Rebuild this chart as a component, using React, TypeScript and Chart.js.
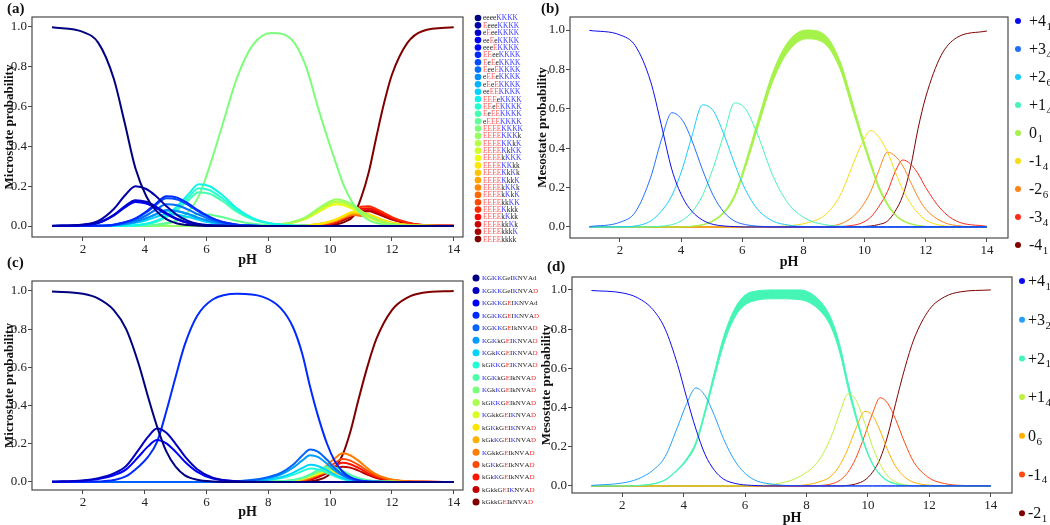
import React, { useEffect, useRef } from "react";
import { Chart, registerables } from "chart.js";
Chart.register(...registerables);
Chart.defaults.font.family = '"Liberation Serif", "Times New Roman", serif';

// ---------- pH grids ----------
const PH_AB = [1, 2, 2.5, 3, 3.35, 3.7, 4.05, 4.35, 4.7, 5.05, 5.4, 5.75, 6.1, 6.5, 7, 7.5, 8.1, 8.7, 9.2, 9.6, 9.9, 10.2, 10.45, 10.75, 11, 11.25, 11.5, 11.75, 12, 12.5, 13, 14];
const PH_CD = [1, 2, 2.5, 3, 3.4, 3.8, 4.1, 4.4, 4.7, 5, 5.3, 5.7, 6.2, 7, 7.8, 8.4, 8.8, 9.1, 9.35, 9.6, 9.9, 10.15, 10.4, 10.65, 10.9, 11.2, 11.5, 12, 12.5, 13, 14];
const X_TICKS = [2, 4, 6, 8, 10, 12, 14];
const Y_TICKS = [0, 0.2, 0.4, 0.6, 0.8, 1.0];

// ---------- panel (b): mesostates ----------
const B_LABELS = [["+4", "1"], ["+3", "4"], ["+2", "6"], ["+1", "4"], ["0", "1"], ["-1", "4"], ["-2", "6"], ["-3", "4"], ["-4", "1"]];
const B_P4 = [0.998, 0.975, 0.92, 0.74, 0.52, 0.29, 0.15, 0.08, 0.035, 0.013, 0.005, 0.002, 0, 0, 0, 0, 0, 0, 0, 0, 0, 0, 0, 0, 0, 0, 0, 0, 0, 0, 0, 0];
const B_P3 = [0.002, 0.024, 0.075, 0.25, 0.44, 0.58, 0.54, 0.44, 0.29, 0.16, 0.075, 0.03, 0.012, 0.004, 0.001, 0, 0, 0, 0, 0, 0, 0, 0, 0, 0, 0, 0, 0, 0, 0, 0, 0];
const B_P2 = [0, 0.001, 0.005, 0.03, 0.08, 0.16, 0.3, 0.46, 0.62, 0.59, 0.47, 0.32, 0.19, 0.09, 0.03, 0.01, 0.002, 0, 0, 0, 0, 0, 0, 0, 0, 0, 0, 0, 0, 0, 0, 0];
const B_P1 = [0, 0, 0, 0.001, 0.004, 0.012, 0.035, 0.075, 0.16, 0.3, 0.47, 0.63, 0.6, 0.47, 0.26, 0.12, 0.04, 0.012, 0.004, 0.001, 0, 0, 0, 0, 0, 0, 0, 0, 0, 0, 0, 0];
const B_Z = [0, 0, 0, 0, 0, 0, 0, 0.003, 0.01, 0.03, 0.07, 0.15, 0.3, 0.5, 0.74, 0.89, 0.955, 0.93, 0.8, 0.6, 0.45, 0.31, 0.2, 0.11, 0.06, 0.03, 0.015, 0.007, 0.003, 0.001, 0, 0];
const B_Z_UP = [0, 0, 0, 0, 0, 0, 0, 0.004, 0.012, 0.034, 0.078, 0.165, 0.325, 0.535, 0.785, 0.94, 1.0, 0.975, 0.84, 0.635, 0.475, 0.33, 0.215, 0.12, 0.066, 0.034, 0.017, 0.008, 0.003, 0.001, 0, 0];
const B_M1 = [0, 0, 0, 0, 0, 0, 0, 0, 0, 0, 0, 0, 0, 0, 0.002, 0.006, 0.02, 0.06, 0.16, 0.31, 0.42, 0.49, 0.46, 0.38, 0.28, 0.19, 0.12, 0.07, 0.035, 0.008, 0.002, 0];
const B_M2 = [0, 0, 0, 0, 0, 0, 0, 0, 0, 0, 0, 0, 0, 0, 0, 0, 0, 0.003, 0.015, 0.05, 0.1, 0.18, 0.28, 0.38, 0.36, 0.31, 0.23, 0.15, 0.09, 0.03, 0.007, 0];
const B_M3 = [0, 0, 0, 0, 0, 0, 0, 0, 0, 0, 0, 0, 0, 0, 0, 0, 0, 0, 0.002, 0.008, 0.02, 0.05, 0.1, 0.18, 0.28, 0.34, 0.32, 0.27, 0.2, 0.09, 0.03, 0.003];
const B_M4 = [0, 0, 0, 0, 0, 0, 0, 0, 0, 0, 0, 0, 0, 0, 0, 0, 0, 0, 0, 0, 0.002, 0.005, 0.012, 0.03, 0.08, 0.16, 0.3, 0.5, 0.66, 0.87, 0.96, 0.995];

// ---------- panel (a): microstates ----------
const A_LABELS = ["eeeeKKKK", "EeeeKKKK", "eEeeKKKK", "eeEeKKKK", "eeeEKKKK", "EEeeKKKK", "EeEeKKKK", "EeeEKKKK", "eEEeKKKK", "eEeEKKKK", "eeEEKKKK", "EEEeKKKK", "EEeEKKKK", "EeEEKKKK", "eEEEKKKK", "EEEEKKKK", "EEEEKKKk", "EEEEKKkK", "EEEEKkKK", "EEEEkKKK", "EEEEKKkk", "EEEEKkKk", "EEEEKkkK", "EEEEkKKk", "EEEEkKkK", "EEEEkkKK", "EEEEKkkk", "EEEEkKkk", "EEEEkkKk", "EEEEkkkK", "EEEEkkkk"];
const A01 = [0.998, 0.975, 0.92, 0.74, 0.52, 0.29, 0.15, 0.08, 0.035, 0.013, 0.005, 0.002, 0, 0, 0, 0, 0, 0, 0, 0, 0, 0, 0, 0, 0, 0, 0, 0, 0, 0, 0, 0];
const A02 = [0.001, 0.008, 0.026, 0.086, 0.152, 0.2, 0.186, 0.152, 0.1, 0.055, 0.026, 0.01, 0.004, 0.001, 0, 0, 0, 0, 0, 0, 0, 0, 0, 0, 0, 0, 0, 0, 0, 0, 0, 0];
const A03 = [0, 0.005, 0.017, 0.056, 0.099, 0.13, 0.122, 0.099, 0.065, 0.036, 0.017, 0.007, 0.003, 0.001, 0, 0, 0, 0, 0, 0, 0, 0, 0, 0, 0, 0, 0, 0, 0, 0, 0, 0];
const A04 = [0, 0.005, 0.016, 0.054, 0.095, 0.125, 0.116, 0.095, 0.062, 0.034, 0.016, 0.006, 0.003, 0.001, 0, 0, 0, 0, 0, 0, 0, 0, 0, 0, 0, 0, 0, 0, 0, 0, 0, 0];
const A05 = [0, 0.005, 0.016, 0.053, 0.092, 0.121, 0.113, 0.092, 0.061, 0.034, 0.016, 0.006, 0.003, 0.001, 0, 0, 0, 0, 0, 0, 0, 0, 0, 0, 0, 0, 0, 0, 0, 0, 0, 0];
const A06 = [0, 0, 0.001, 0.007, 0.019, 0.039, 0.073, 0.111, 0.15, 0.143, 0.114, 0.077, 0.046, 0.022, 0.007, 0.002, 0, 0, 0, 0, 0, 0, 0, 0, 0, 0, 0, 0, 0, 0, 0, 0];
const A07 = [0, 0, 0.001, 0.007, 0.018, 0.036, 0.068, 0.104, 0.14, 0.133, 0.106, 0.072, 0.043, 0.02, 0.007, 0.002, 0, 0, 0, 0, 0, 0, 0, 0, 0, 0, 0, 0, 0, 0, 0, 0];
const A08 = [0, 0, 0.001, 0.005, 0.014, 0.028, 0.053, 0.081, 0.11, 0.104, 0.083, 0.057, 0.034, 0.016, 0.005, 0.002, 0, 0, 0, 0, 0, 0, 0, 0, 0, 0, 0, 0, 0, 0, 0, 0];
const A09 = [0, 0, 0.001, 0.004, 0.01, 0.021, 0.039, 0.059, 0.08, 0.076, 0.061, 0.041, 0.025, 0.012, 0.004, 0.001, 0, 0, 0, 0, 0, 0, 0, 0, 0, 0, 0, 0, 0, 0, 0, 0];
const A10 = [0, 0, 0.001, 0.004, 0.01, 0.02, 0.038, 0.058, 0.077, 0.074, 0.059, 0.04, 0.024, 0.011, 0.004, 0.001, 0, 0, 0, 0, 0, 0, 0, 0, 0, 0, 0, 0, 0, 0, 0, 0];
const A11 = [0, 0, 0, 0.003, 0.008, 0.016, 0.029, 0.045, 0.06, 0.057, 0.046, 0.031, 0.018, 0.009, 0.003, 0.001, 0, 0, 0, 0, 0, 0, 0, 0, 0, 0, 0, 0, 0, 0, 0, 0];
const A12 = [0, 0, 0, 0, 0.001, 0.004, 0.012, 0.025, 0.053, 0.1, 0.157, 0.21, 0.2, 0.157, 0.087, 0.04, 0.013, 0.004, 0.001, 0, 0, 0, 0, 0, 0, 0, 0, 0, 0, 0, 0, 0];
const A13 = [0, 0, 0, 0, 0.001, 0.004, 0.011, 0.023, 0.048, 0.09, 0.141, 0.19, 0.18, 0.141, 0.078, 0.036, 0.012, 0.004, 0.001, 0, 0, 0, 0, 0, 0, 0, 0, 0, 0, 0, 0, 0];
const A14 = [0, 0, 0, 0, 0.001, 0.003, 0.009, 0.02, 0.043, 0.081, 0.127, 0.17, 0.162, 0.127, 0.07, 0.032, 0.011, 0.003, 0.001, 0, 0, 0, 0, 0, 0, 0, 0, 0, 0, 0, 0, 0];
const A15 = [0, 0, 0, 0, 0, 0.001, 0.003, 0.007, 0.015, 0.029, 0.045, 0.06, 0.057, 0.045, 0.025, 0.011, 0.004, 0.001, 0, 0, 0, 0, 0, 0, 0, 0, 0, 0, 0, 0, 0, 0];
const A16 = [0, 0, 0, 0, 0, 0, 0, 0.003, 0.01, 0.03, 0.07, 0.15, 0.3, 0.5, 0.75, 0.91, 0.97, 0.945, 0.81, 0.6, 0.45, 0.31, 0.2, 0.11, 0.06, 0.03, 0.015, 0.007, 0.003, 0.001, 0, 0];
const A17 = [0, 0, 0, 0, 0, 0, 0, 0, 0, 0, 0, 0, 0, 0, 0.001, 0.002, 0.006, 0.017, 0.044, 0.086, 0.116, 0.135, 0.127, 0.105, 0.077, 0.052, 0.033, 0.019, 0.01, 0.002, 0.001, 0];
const A18 = [0, 0, 0, 0, 0, 0, 0, 0, 0, 0, 0, 0, 0, 0, 0.001, 0.002, 0.005, 0.015, 0.041, 0.079, 0.107, 0.125, 0.117, 0.097, 0.071, 0.048, 0.031, 0.018, 0.009, 0.002, 0.001, 0];
const A19 = [0, 0, 0, 0, 0, 0, 0, 0, 0, 0, 0, 0, 0, 0, 0, 0.001, 0.005, 0.015, 0.039, 0.076, 0.103, 0.12, 0.113, 0.093, 0.069, 0.047, 0.029, 0.017, 0.009, 0.002, 0, 0];
const A20 = [0, 0, 0, 0, 0, 0, 0, 0, 0, 0, 0, 0, 0, 0, 0, 0.001, 0.004, 0.013, 0.036, 0.069, 0.094, 0.11, 0.103, 0.085, 0.063, 0.043, 0.027, 0.016, 0.008, 0.002, 0, 0];
const A21 = [0, 0, 0, 0, 0, 0, 0, 0, 0, 0, 0, 0, 0, 0, 0, 0, 0, 0.001, 0.003, 0.01, 0.019, 0.034, 0.053, 0.072, 0.068, 0.059, 0.044, 0.029, 0.017, 0.006, 0.001, 0];
const A22 = [0, 0, 0, 0, 0, 0, 0, 0, 0, 0, 0, 0, 0, 0, 0, 0, 0, 0.001, 0.003, 0.009, 0.018, 0.032, 0.05, 0.068, 0.065, 0.056, 0.041, 0.027, 0.016, 0.005, 0.001, 0];
const A23 = [0, 0, 0, 0, 0, 0, 0, 0, 0, 0, 0, 0, 0, 0, 0, 0, 0, 0, 0.003, 0.009, 0.017, 0.031, 0.048, 0.065, 0.061, 0.053, 0.039, 0.026, 0.015, 0.005, 0.001, 0];
const A24 = [0, 0, 0, 0, 0, 0, 0, 0, 0, 0, 0, 0, 0, 0, 0, 0, 0, 0, 0.002, 0.008, 0.016, 0.029, 0.045, 0.061, 0.058, 0.05, 0.037, 0.024, 0.014, 0.005, 0.001, 0];
const A25 = [0, 0, 0, 0, 0, 0, 0, 0, 0, 0, 0, 0, 0, 0, 0, 0, 0, 0, 0.002, 0.008, 0.015, 0.027, 0.042, 0.057, 0.054, 0.047, 0.035, 0.023, 0.014, 0.005, 0.001, 0];
const A26 = [0, 0, 0, 0, 0, 0, 0, 0, 0, 0, 0, 0, 0, 0, 0, 0, 0, 0, 0.002, 0.007, 0.015, 0.026, 0.041, 0.055, 0.052, 0.045, 0.033, 0.022, 0.013, 0.004, 0.001, 0];
const A27 = [0, 0, 0, 0, 0, 0, 0, 0, 0, 0, 0, 0, 0, 0, 0, 0, 0, 0, 0.001, 0.003, 0.009, 0.022, 0.042, 0.07, 0.097, 0.1, 0.085, 0.065, 0.045, 0.018, 0.005, 0.001];
const A28 = [0, 0, 0, 0, 0, 0, 0, 0, 0, 0, 0, 0, 0, 0, 0, 0, 0, 0, 0.001, 0.003, 0.008, 0.02, 0.038, 0.063, 0.087, 0.09, 0.077, 0.058, 0.04, 0.016, 0.005, 0.001];
const A29 = [0, 0, 0, 0, 0, 0, 0, 0, 0, 0, 0, 0, 0, 0, 0, 0, 0, 0, 0.001, 0.002, 0.007, 0.018, 0.034, 0.057, 0.079, 0.081, 0.069, 0.052, 0.036, 0.015, 0.004, 0.001];
const A30 = [0, 0, 0, 0, 0, 0, 0, 0, 0, 0, 0, 0, 0, 0, 0, 0, 0, 0, 0, 0.002, 0.006, 0.016, 0.031, 0.052, 0.072, 0.074, 0.063, 0.048, 0.033, 0.013, 0.004, 0.001];
const A31 = [0, 0, 0, 0, 0, 0, 0, 0, 0, 0, 0, 0, 0, 0, 0, 0, 0, 0, 0, 0, 0.003, 0.008, 0.02, 0.05, 0.14, 0.27, 0.45, 0.62, 0.76, 0.92, 0.98, 0.998];
const A_SERIES = [A01, A02, A03, A04, A05, A06, A07, A08, A09, A10, A11, A12, A13, A14, A15, A16, A17, A18, A19, A20, A21, A22, A23, A24, A25, A26, A27, A28, A29, A30, A31];

// ---------- panel (d): mesostates ----------
const D_LABELS = [["+4", "1"], ["+3", "2"], ["+2", "1"], ["+1", "4"], ["0", "6"], ["-1", "4"], ["-2", "1"]];
const D_P4 = [0.997, 0.985, 0.96, 0.9, 0.8, 0.62, 0.45, 0.29, 0.16, 0.08, 0.035, 0.012, 0.003, 0, 0, 0, 0, 0, 0, 0, 0, 0, 0, 0, 0, 0, 0, 0, 0, 0, 0];
const D_P3 = [0.003, 0.015, 0.035, 0.08, 0.15, 0.3, 0.42, 0.5, 0.46, 0.36, 0.24, 0.12, 0.04, 0.007, 0.001, 0, 0, 0, 0, 0, 0, 0, 0, 0, 0, 0, 0, 0, 0, 0, 0];
const D_P2 = [0, 0, 0.002, 0.01, 0.03, 0.08, 0.13, 0.21, 0.37, 0.55, 0.72, 0.87, 0.94, 0.955, 0.95, 0.9, 0.81, 0.67, 0.5, 0.35, 0.2, 0.11, 0.055, 0.025, 0.01, 0.003, 0.001, 0, 0, 0, 0];
const D_P2_UP = [0, 0, 0.002, 0.011, 0.032, 0.085, 0.14, 0.225, 0.39, 0.58, 0.76, 0.915, 0.99, 1.0, 1.0, 0.95, 0.855, 0.71, 0.53, 0.37, 0.21, 0.115, 0.058, 0.026, 0.011, 0.003, 0.001, 0, 0, 0, 0];
const D_P1 = [0, 0, 0, 0, 0, 0, 0, 0, 0, 0, 0, 0, 0.001, 0.01, 0.05, 0.13, 0.25, 0.38, 0.47, 0.44, 0.32, 0.2, 0.11, 0.05, 0.02, 0.006, 0.002, 0, 0, 0, 0];
const D_Z = [0, 0, 0, 0, 0, 0, 0, 0, 0, 0, 0, 0, 0, 0, 0.003, 0.02, 0.05, 0.11, 0.19, 0.29, 0.38, 0.36, 0.28, 0.18, 0.1, 0.045, 0.018, 0.004, 0.001, 0, 0];
const D_M1 = [0, 0, 0, 0, 0, 0, 0, 0, 0, 0, 0, 0, 0, 0, 0, 0.002, 0.01, 0.03, 0.07, 0.14, 0.26, 0.37, 0.45, 0.42, 0.34, 0.22, 0.12, 0.04, 0.012, 0.003, 0];
const D_M2 = [0, 0, 0, 0, 0, 0, 0, 0, 0, 0, 0, 0, 0, 0, 0, 0, 0, 0, 0.003, 0.01, 0.03, 0.07, 0.14, 0.26, 0.42, 0.6, 0.75, 0.9, 0.965, 0.99, 1.0];

// ---------- panel (c): microstates ----------
const C_LABELS = ["KGKKGeIKNVAd", "KGKKGeIKNVAD", "KGKKGEIKNVAd", "KGKKGEIKNVAD", "KGKKGEIkNVAD", "KGKkGEIKNVAD", "KGkKGEIKNVAD", "kGKKGEIKNVAD", "KGKkGEIkNVAD", "KGkKGEIkNVAD", "kGKKGEIkNVAD", "KGkkGEIKNVAD", "kGKkGEIKNVAD", "kGkKGEIKNVAD", "KGkkGEIkNVAD", "kGKkGEIkNVAD", "kGkKGEIkNVAD", "kGkkGEIKNVAD", "kGkkGEIkNVAD"];
const C01 = [0.997, 0.985, 0.96, 0.9, 0.8, 0.62, 0.45, 0.29, 0.16, 0.08, 0.035, 0.012, 0.003, 0, 0, 0, 0, 0, 0, 0, 0, 0, 0, 0, 0, 0, 0, 0, 0, 0, 0];
const C02 = [0.002, 0.008, 0.02, 0.045, 0.084, 0.168, 0.235, 0.28, 0.258, 0.2, 0.134, 0.067, 0.022, 0.004, 0.001, 0, 0, 0, 0, 0, 0, 0, 0, 0, 0, 0, 0, 0, 0, 0, 0];
const C03 = [0.001, 0.007, 0.015, 0.035, 0.066, 0.132, 0.185, 0.22, 0.202, 0.158, 0.106, 0.053, 0.018, 0.003, 0, 0, 0, 0, 0, 0, 0, 0, 0, 0, 0, 0, 0, 0, 0, 0, 0];
const C04 = [0, 0, 0.002, 0.01, 0.03, 0.08, 0.13, 0.21, 0.37, 0.55, 0.72, 0.87, 0.955, 0.985, 0.97, 0.91, 0.81, 0.67, 0.5, 0.35, 0.2, 0.11, 0.055, 0.025, 0.01, 0.003, 0.001, 0, 0, 0, 0];
const C05 = [0, 0, 0, 0, 0, 0, 0, 0, 0, 0, 0, 0, 0, 0.004, 0.018, 0.047, 0.09, 0.138, 0.17, 0.159, 0.116, 0.072, 0.04, 0.018, 0.007, 0.002, 0.001, 0, 0, 0, 0];
const C06 = [0, 0, 0, 0, 0, 0, 0, 0, 0, 0, 0, 0, 0, 0.003, 0.015, 0.039, 0.075, 0.113, 0.14, 0.131, 0.095, 0.06, 0.033, 0.015, 0.006, 0.002, 0.001, 0, 0, 0, 0];
const C07 = [0, 0, 0, 0, 0, 0, 0, 0, 0, 0, 0, 0, 0, 0.002, 0.01, 0.025, 0.048, 0.073, 0.09, 0.084, 0.061, 0.038, 0.021, 0.01, 0.004, 0.001, 0, 0, 0, 0, 0];
const C08 = [0, 0, 0, 0, 0, 0, 0, 0, 0, 0, 0, 0, 0, 0.001, 0.007, 0.019, 0.037, 0.057, 0.07, 0.066, 0.048, 0.03, 0.016, 0.007, 0.003, 0.001, 0, 0, 0, 0, 0];
const C09 = [0, 0, 0, 0, 0, 0, 0, 0, 0, 0, 0, 0, 0, 0, 0.001, 0.004, 0.011, 0.023, 0.04, 0.061, 0.08, 0.076, 0.059, 0.038, 0.021, 0.009, 0.004, 0.001, 0, 0, 0];
const C10 = [0, 0, 0, 0, 0, 0, 0, 0, 0, 0, 0, 0, 0, 0, 0, 0.004, 0.009, 0.02, 0.035, 0.053, 0.07, 0.066, 0.052, 0.033, 0.018, 0.008, 0.003, 0.001, 0, 0, 0];
const C11 = [0, 0, 0, 0, 0, 0, 0, 0, 0, 0, 0, 0, 0, 0, 0, 0.003, 0.009, 0.019, 0.032, 0.05, 0.065, 0.062, 0.048, 0.031, 0.017, 0.008, 0.003, 0.001, 0, 0, 0];
const C12 = [0, 0, 0, 0, 0, 0, 0, 0, 0, 0, 0, 0, 0, 0, 0, 0.003, 0.008, 0.017, 0.03, 0.046, 0.06, 0.057, 0.044, 0.028, 0.016, 0.007, 0.003, 0.001, 0, 0, 0];
const C13 = [0, 0, 0, 0, 0, 0, 0, 0, 0, 0, 0, 0, 0, 0, 0, 0.003, 0.007, 0.016, 0.028, 0.042, 0.055, 0.052, 0.041, 0.026, 0.015, 0.007, 0.003, 0.001, 0, 0, 0];
const C14 = [0, 0, 0, 0, 0, 0, 0, 0, 0, 0, 0, 0, 0, 0, 0, 0.003, 0.007, 0.015, 0.025, 0.038, 0.05, 0.048, 0.037, 0.024, 0.013, 0.006, 0.002, 0.001, 0, 0, 0];
const C15 = [0, 0, 0, 0, 0, 0, 0, 0, 0, 0, 0, 0, 0, 0, 0, 0.001, 0.003, 0.01, 0.023, 0.047, 0.087, 0.123, 0.15, 0.14, 0.113, 0.073, 0.04, 0.013, 0.004, 0.001, 0];
const C16 = [0, 0, 0, 0, 0, 0, 0, 0, 0, 0, 0, 0, 0, 0, 0, 0, 0.003, 0.008, 0.019, 0.037, 0.069, 0.099, 0.12, 0.112, 0.091, 0.059, 0.032, 0.011, 0.003, 0.001, 0];
const C17 = [0, 0, 0, 0, 0, 0, 0, 0, 0, 0, 0, 0, 0, 0, 0, 0, 0.002, 0.007, 0.016, 0.031, 0.058, 0.082, 0.1, 0.093, 0.075, 0.049, 0.027, 0.009, 0.003, 0.001, 0];
const C18 = [0, 0, 0, 0, 0, 0, 0, 0, 0, 0, 0, 0, 0, 0, 0, 0, 0.002, 0.005, 0.012, 0.025, 0.046, 0.066, 0.08, 0.075, 0.061, 0.039, 0.021, 0.007, 0.002, 0.001, 0];
const C19 = [0, 0, 0, 0, 0, 0, 0, 0, 0, 0, 0, 0, 0, 0, 0, 0, 0, 0, 0.003, 0.01, 0.03, 0.07, 0.14, 0.26, 0.42, 0.6, 0.75, 0.9, 0.965, 0.99, 1.0];
const C_SERIES = [C01, C02, C03, C04, C05, C06, C07, C08, C09, C10, C11, C12, C13, C14, C15, C16, C17, C18, C19];

// ---------- styling ----------
const B_COLORS = ["#0b0bef", "#1f6fff", "#18cdfb", "#45f5b5", "#a5f24a", "#f5de10", "#ff8418", "#ff2a1a", "#800000"];
const D_COLORS = ["#0b0bef", "#24a0ff", "#45f5b5", "#c0f040", "#ffb000", "#ff4a10", "#800000"];

function jet(t: number): string {
  const r = t < 0.35 ? 0 : t < 0.66 ? (t - 0.35) / 0.31 : t < 0.89 ? 1 : 1 - (0.5 * (t - 0.89)) / 0.11;
  const g = t < 0.125 ? 0 : t < 0.375 ? (t - 0.125) / 0.25 : t < 0.64 ? 1 : t < 0.91 ? 1 - (t - 0.64) / 0.27 : 0;
  const b = t < 0.11 ? 0.5 + (0.5 * t) / 0.11 : t < 0.34 ? 1 : t < 0.65 ? 1 - (t - 0.34) / 0.31 : 0;
  const h = (v: number) => Math.round(Math.max(0, Math.min(1, v)) * 255).toString(16).padStart(2, "0");
  return "#" + h(r) + h(g) + h(b);
}

function colorA(ch: string) {
  if (ch === "E") return "#ff5c5c";
  if (ch === "K") return "#3a3aff";
  return "#222222";
}
function colorC(ch: string) {
  if (ch === "K") return "#2a2aff";
  if (ch === "E" || ch === "D") return "#ff3030";
  return "#222222";
}

const FONT = '"Liberation Serif", "Times New Roman", serif';

const decorPlugin = {
  id: "decor",
  afterDraw(chart: any, _args: any, o: any) {
    const { ctx, chartArea: a } = chart;
    ctx.save();
    ctx.strokeStyle = "#4a4a4a";
    ctx.lineWidth = 1.2;
    ctx.strokeRect(a.left, a.top, a.right - a.left, a.bottom - a.top);
    ctx.fillStyle = "#111";
    ctx.textBaseline = "middle";
    ctx.textAlign = "left";
    ctx.font = "bold 15px " + FONT;
    ctx.fillText(o.label, o.labelX, o.labelY);
    ctx.textAlign = "center";
    ctx.font = "bold 14px " + FONT;
    ctx.fillText("pH", (a.left + a.right) / 2, o.xTitleY);
    ctx.save();
    ctx.translate(o.yTitleX, (a.top + a.bottom) / 2);
    ctx.rotate(-Math.PI / 2);
    ctx.font = "bold 13px " + FONT;
    ctx.fillText(o.yTitle, 0, 0);
    ctx.restore();
    // legend
    const L = o.legend;
    L.items.forEach((it: any, i: number) => {
      const y = L.y0 + i * L.dy;
      ctx.beginPath();
      ctx.fillStyle = it.color;
      ctx.arc(L.dotX, y, L.r, 0, Math.PI * 2);
      ctx.fill();
      ctx.textAlign = "left";
      ctx.textBaseline = "middle";
      if (it.rich) {
        ctx.font = L.fontSize + "px " + FONT;
        let x = L.textX;
        for (const ch of it.rich) {
          ctx.fillStyle = it.colorFn(ch);
          ctx.fillText(ch, x, y + 0.5);
          x += ctx.measureText(ch).width;
        }
      } else {
        ctx.fillStyle = "#111";
        ctx.font = "16px " + FONT;
        ctx.fillText(it.main, L.textX, y + 1);
        const w = ctx.measureText(it.main).width;
        ctx.font = "11px " + FONT;
        ctx.fillText(it.sub, L.textX + w + 0.5, y + 6);
      }
    });
    ctx.restore();
  },
};

type PanelDef = {
  left: number; top: number; w: number; h: number;
  area: { l: number; r: number; t: number; b: number };
  xr: [number, number]; yr: [number, number];
  datasets: any[]; decor: any;
};

function Panel({ def }: { def: PanelDef }) {
  const ref = useRef<HTMLCanvasElement | null>(null);
  useEffect(() => {
    if (!ref.current) return;
    const { area, w, h } = def;
    const tickFont = { family: FONT, size: 13 };
    const chart = new Chart(ref.current, {
      type: "line",
      data: { datasets: def.datasets },
      options: {
        animation: false,
        responsive: false,
        maintainAspectRatio: false,
        devicePixelRatio: 1,
        layout: { autoPadding: false, padding: { left: 0, top: area.t, right: w - area.r, bottom: 0 } } as any,
        elements: { point: { radius: 0 } },
        plugins: { legend: { display: false }, tooltip: { enabled: false }, decor: def.decor } as any,
        scales: {
          x: {
            type: "linear", min: def.xr[0], max: def.xr[1],
            afterFit: (s: any) => { s.height = h - area.b; },
            afterBuildTicks: (s: any) => { s.ticks = X_TICKS.map((v) => ({ value: v })); },
            ticks: { callback: (v: any) => String(v), font: tickFont, color: "#222", padding: 1, maxRotation: 0, autoSkip: false },
            grid: { display: true, drawOnChartArea: false, drawTicks: true, tickLength: 4, color: "#4a4a4a" },
            border: { display: false },
          },
          y: {
            type: "linear", min: def.yr[0], max: def.yr[1],
            afterFit: (s: any) => { s.width = area.l; },
            afterBuildTicks: (s: any) => { s.ticks = Y_TICKS.map((v) => ({ value: v })); },
            ticks: { callback: (v: any) => Number(v).toFixed(1), font: tickFont, color: "#222", padding: 1, autoSkip: false },
            grid: { display: true, drawOnChartArea: false, drawTicks: true, tickLength: 4, color: "#4a4a4a" },
            border: { display: false },
          },
        } as any,
      },
      plugins: [decorPlugin as any],
    });
    return () => chart.destroy();
  }, [def]);
  return (
    <canvas
      ref={ref}
      width={def.w}
      height={def.h}
      style={{ position: "absolute", left: def.left, top: def.top, width: def.w, height: def.h }}
    />
  );
}

function line(ph: number[], vals: number[], color: string, width: number, extra: any = {}) {
  return {
    data: vals.map((y, i) => ({ x: ph[i], y })),
    borderColor: color,
    backgroundColor: color,
    borderWidth: width,
    pointRadius: 0,
    fill: false,
    cubicInterpolationMode: "monotone",
    ...extra,
  };
}

const PANEL_A: PanelDef = {
  left: 0, top: 0, w: 545, h: 270,
  area: { l: 32, r: 463, t: 17, b: 237 },
  xr: [0.353, 14.3], yr: [-0.055, 1.05],
  datasets: A_SERIES.map((s, i) => line(PH_AB, s, jet(i / 30), 2)),
  decor: {
    label: "(a)", labelX: 7, labelY: 9, xTitleY: 260, yTitleX: 10, yTitle: "Microstate probability",
    legend: { dotX: 478, textX: 483, y0: 18, dy: 7.37, r: 3.3, fontSize: 7.5,
      items: A_LABELS.map((l, i) => ({ color: jet(i / 30), rich: l, colorFn: colorA })) },
  },
};

const B_SERIES = [B_P4, B_P3, B_P2, B_P1, B_Z, B_M1, B_M2, B_M3, B_M4];
const PANEL_B: PanelDef = {
  left: 525, top: 0, w: 525, h: 270,
  area: { l: 45, r: 483, t: 17, b: 238 },
  xr: [0.366, 14.69], yr: [-0.056, 1.066],
  datasets: [
    ...B_SERIES.map((s, i) => line(PH_AB, s, B_COLORS[i], 1)),
    line(PH_AB, B_Z_UP, B_COLORS[4], 1, { fill: 4, backgroundColor: B_COLORS[4] }),
  ],
  decor: {
    label: "(b)", labelX: 16, labelY: 9, xTitleY: 262, yTitleX: 18, yTitle: "Mesostate probability",
    legend: { dotX: 493, textX: 504, y0: 21, dy: 28, r: 3,
      items: B_LABELS.map((l, i) => ({ color: B_COLORS[i], main: l[0], sub: l[1] })) },
  },
};

const PANEL_C: PanelDef = {
  left: 0, top: 250, w: 545, h: 275,
  area: { l: 32, r: 463, t: 31, b: 240 },
  xr: [0.353, 14.3], yr: [-0.042, 1.052],
  datasets: C_SERIES.map((s, i) => line(PH_CD, s, jet(i / 18), 2)),
  decor: {
    label: "(c)", labelX: 7, labelY: 13, xTitleY: 262, yTitleX: 10, yTitle: "Microstate probability",
    legend: { dotX: 476, textX: 482, y0: 28, dy: 12.44, r: 3.5, fontSize: 7,
      items: C_LABELS.map((l, i) => ({ color: jet(i / 18), rich: l, colorFn: colorC })) },
  },
};

const D_SERIES = [D_P4, D_P3, D_P2, D_P1, D_Z, D_M1, D_M2];
const PANEL_D: PanelDef = {
  left: 525, top: 250, w: 525, h: 275,
  area: { l: 47, r: 487, t: 27, b: 243 },
  xr: [0.366, 14.69], yr: [-0.036, 1.066],
  datasets: [
    ...D_SERIES.map((s, i) => line(PH_CD, s, D_COLORS[i], 1)),
    line(PH_CD, D_P2_UP, D_COLORS[2], 1, { fill: 2, backgroundColor: D_COLORS[2] }),
  ],
  decor: {
    label: "(d)", labelX: 22, labelY: 17, xTitleY: 268, yTitleX: 22, yTitle: "Mesostate probability",
    legend: { dotX: 497, textX: 503, y0: 31, dy: 38.7, r: 3,
      items: D_LABELS.map((l, i) => ({ color: D_COLORS[i], main: l[0], sub: l[1] })) },
  },
};

export default function App() {
  return (
    <div style={{ position: "fixed", left: 0, top: 0, width: 1050, height: 525, background: "#ffffff", overflow: "hidden" }}>
      <Panel def={PANEL_A} />
      <Panel def={PANEL_B} />
      <Panel def={PANEL_C} />
      <Panel def={PANEL_D} />
    </div>
  );
}
